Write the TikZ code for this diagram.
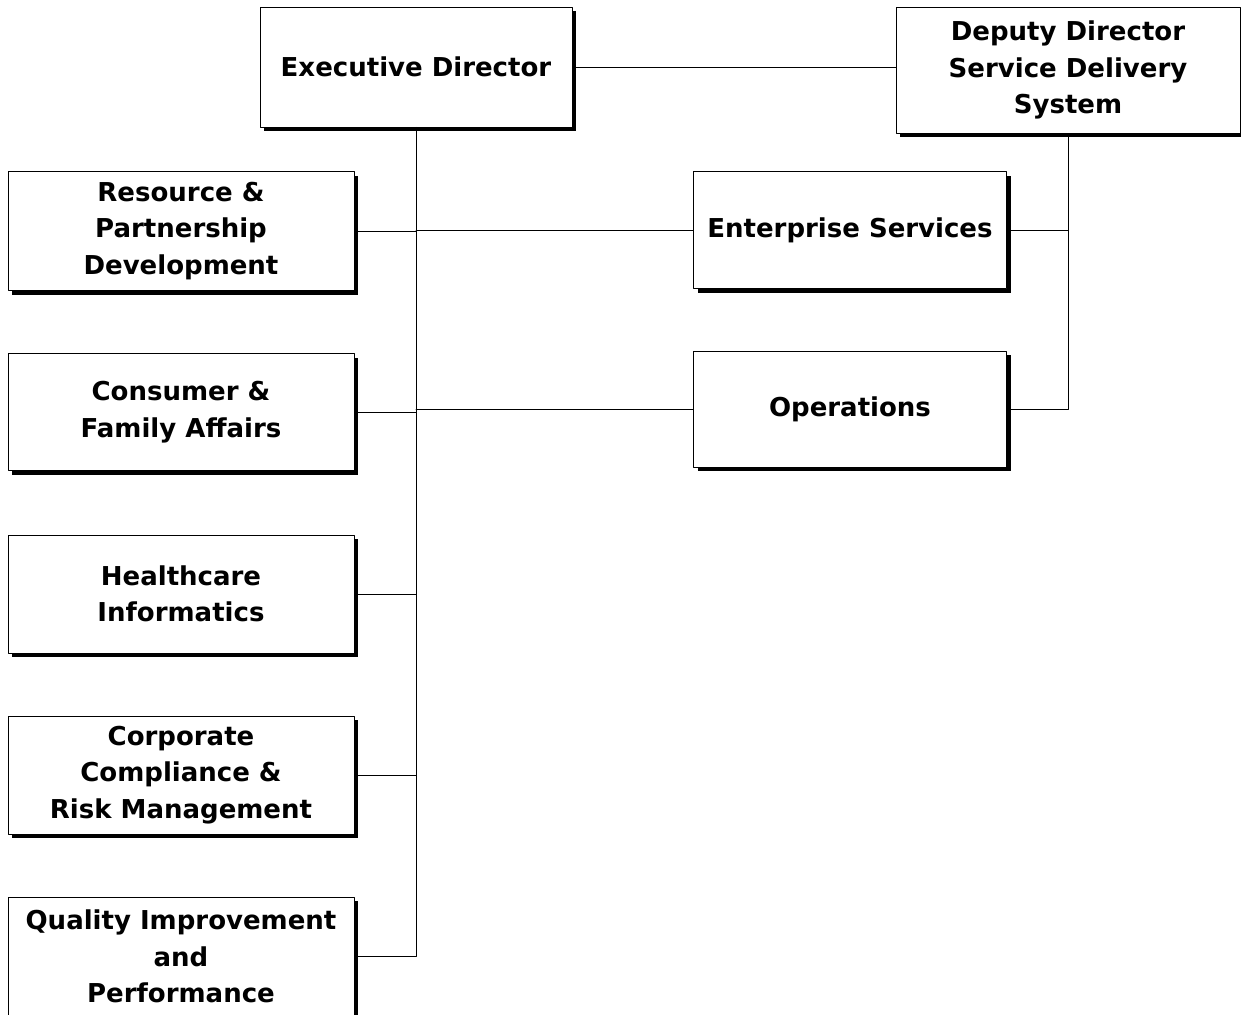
\documentclass[tikz,border=0pt]{standalone}
\usepackage{fontspec}
\setmainfont{DejaVu Sans}
\usetikzlibrary{shadows}

\tikzset{
  unit/.style={draw, line width=0.8pt, fill=white, align=center,
    font=\bfseries\fontsize{26}{36.5}\selectfont,
    drop shadow={shadow xshift=4pt, shadow yshift=-4pt, fill=black, opacity=1}},
  link/.style={line width=0.8pt},
}

\begin{document}
\begin{tikzpicture}[x=1pt, y=-1pt, line cap=round, line join=round]
	\useasboundingbox (0,0) rectangle (1241,1014);
	\clip (0,0) rectangle (1241,1014);
	% top row
	\node[unit, minimum width=312pt, minimum height=120pt] (exec) at (416,67) {Executive Director};
	\node[unit, minimum width=344pt, minimum height=126pt] (deputy) at (1068,70) {Deputy Director\\Service Delivery\\System};
	% left column
	\node[unit, minimum width=346pt, minimum height=119pt] (resource) at (181,231) {Resource \&\\Partnership\\Development};
	\node[unit, minimum width=346pt, minimum height=117pt] (consumer) at (181,412) {Consumer \&\\Family Affairs};
	\node[unit, minimum width=346pt, minimum height=118pt] (health) at (181,594) {Healthcare\\Informatics};
	\node[unit, minimum width=346pt, minimum height=118pt] (corp) at (181,775) {Corporate\\Compliance \&\\Risk Management};
	\node[unit, minimum width=346pt, minimum height=118pt, anchor=north] (quality) at (181,897) {Quality Improvement\\and\\Performance};
	% right column
	\node[unit, minimum width=313pt, minimum height=117pt] (enterprise) at (850,230) {Enterprise Services};
	\node[unit, minimum width=313pt, minimum height=116pt] (ops) at (850,409) {Operations};
	% connectors
	\draw[link] (exec.east) -- (exec.east -| deputy.west);
	\draw[link] (exec.south) -- (exec.south |- quality.east) -- (quality.east);
	\draw[link] (resource.east) -- (resource.east -| exec.south);
	\draw[link] (consumer.east) -- (consumer.east -| exec.south);
	\draw[link] (health.east) -- (health.east -| exec.south);
	\draw[link] (corp.east) -- (corp.east -| exec.south);
	\draw[link] (exec.south |- enterprise.west) -- (enterprise.west);
	\draw[link] (exec.south |- ops.west) -- (ops.west);
	\draw[link] (deputy.south) -- (deputy.south |- ops.east) -- (ops.east);
	\draw[link] (enterprise.east) -- (enterprise.east -| deputy.south);
\end{tikzpicture}
\end{document}
